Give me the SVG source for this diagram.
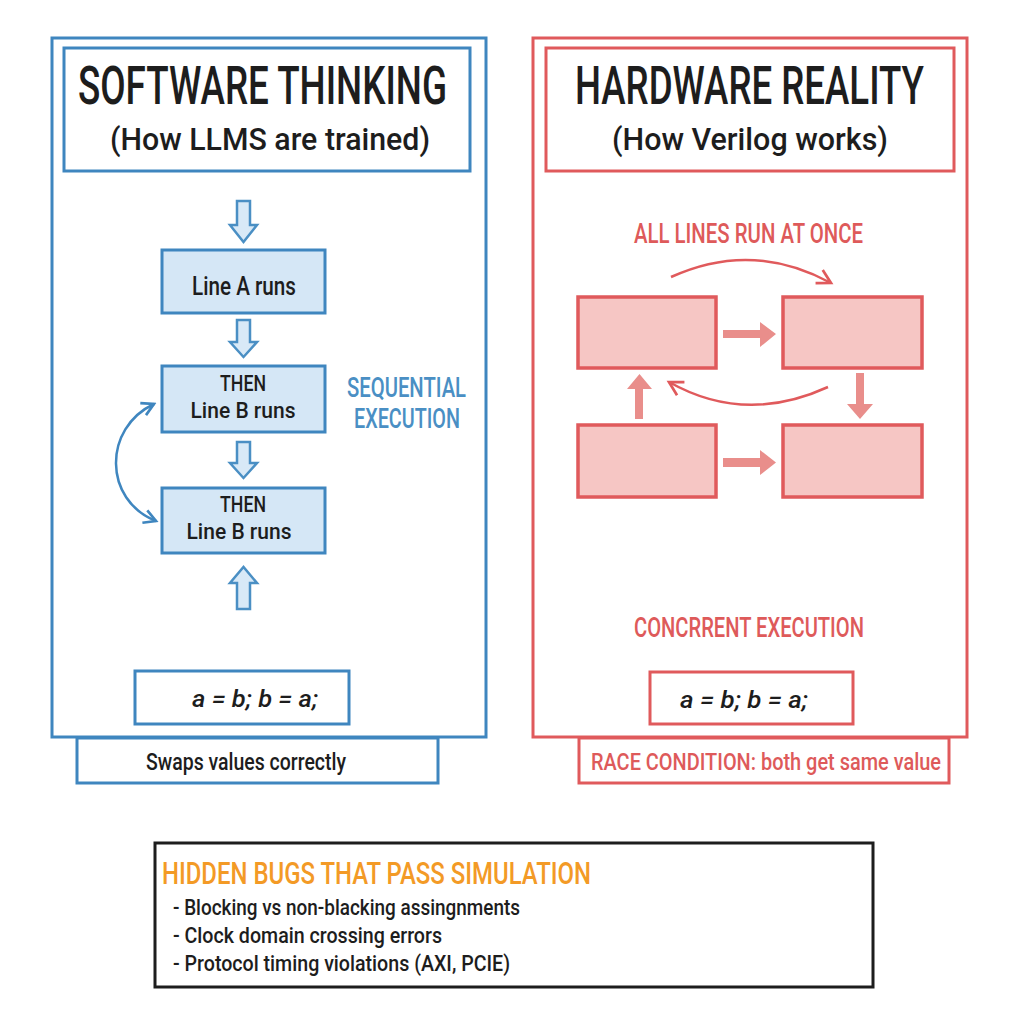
<svg xmlns="http://www.w3.org/2000/svg" width="1024" height="1024" viewBox="0 0 1024 1024">
  <style>
    text { font-family: Roboto, "Liberation Sans", "DejaVu Sans", sans-serif; }
    .blue { fill: none; stroke: #3f86bf; stroke-width: 3; }
    .red { fill: none; stroke: #e05a5c; stroke-width: 3; }
    .step { fill: #d5e7f6; stroke: #3f86bf; stroke-width: 3; }
    .block { fill: #f6c6c4; stroke: #e05a5c; stroke-width: 3.5; }
    .hollow { fill: #d8e9f7; stroke: #4a8fc4; stroke-width: 2.5; stroke-linejoin: miter; }
    .solid { fill: #e98e8b; }
    .title { font-size: 53px; font-weight: 500; fill: #1d1d1d; }
    .sub { font-size: 32px; font-weight: 500; fill: #1d1d1d; }
    .lbl { font-size: 25px; font-weight: 500; fill: #1d1d1d; text-anchor: middle; }
    .lbl2 { font-size: 22px; font-weight: 500; fill: #1d1d1d; text-anchor: middle; }
    .bluetxt { font-size: 27px; font-weight: 500; fill: #4a8fc4; }
    .redtxt { font-size: 27px; font-weight: 500; fill: #de5a5a; }
    .code { font-size: 24px; font-weight: 500; font-style: italic; fill: #1d1d1d; }
    .note { font-size: 23px; font-weight: 500; fill: #1d1d1d; }
    .bug { font-size: 22px; font-weight: 500; fill: #1d1d1d; }
  </style>
  <defs>
    <marker id="chevBlue" viewBox="0 0 12 12" refX="10" refY="6" markerWidth="16" markerHeight="16" orient="auto-start-reverse" markerUnits="userSpaceOnUse">
      <path d="M1,1 L10,6 L1,11" fill="none" stroke="#3f86bf" stroke-width="2"/>
    </marker>
    <marker id="chevRed" viewBox="0 0 12 12" refX="10" refY="6" markerWidth="18" markerHeight="18" orient="auto" markerUnits="userSpaceOnUse">
      <path d="M1,1 L10,6 L1,11" fill="none" stroke="#e05a5c" stroke-width="1.8"/>
    </marker>
  </defs>

  <rect width="1024" height="1024" fill="#ffffff"/>

  <!-- software panel -->
  <g id="software-panel">
    <rect class="blue" x="52" y="38" width="434" height="699"/>
    <rect class="blue" x="64" y="48" width="406" height="123"/>
    <text class="title" x="78" y="104" textLength="369" lengthAdjust="spacingAndGlyphs">SOFTWARE THINKING</text>
    <text class="sub" x="110" y="150" textLength="320" lengthAdjust="spacingAndGlyphs">(How LLMS are trained)</text>
  </g>

  <g id="step-line-a">
    <rect class="step" x="162" y="250" width="163" height="63"/>
    <text class="lbl" x="244" y="295" textLength="104" lengthAdjust="spacingAndGlyphs">Line A runs</text>
  </g>
  <g id="step-line-b1">
    <rect class="step" x="162" y="366" width="163" height="66"/>
    <text class="lbl2" x="243" y="391" textLength="46" lengthAdjust="spacingAndGlyphs">THEN</text>
    <text class="lbl2" x="243" y="418" textLength="105" lengthAdjust="spacingAndGlyphs">Line B runs</text>
  </g>
  <g id="step-line-b2">
    <rect class="step" x="162" y="488" width="163" height="65"/>
    <text class="lbl2" x="243" y="512" textLength="46" lengthAdjust="spacingAndGlyphs">THEN</text>
    <text class="lbl2" x="239" y="539" textLength="105" lengthAdjust="spacingAndGlyphs">Line B runs</text>
  </g>

  <g id="sequential-label">
    <text class="bluetxt" x="347" y="397" textLength="119" lengthAdjust="spacingAndGlyphs">SEQUENTIAL</text>
    <text class="bluetxt" x="354" y="428" textLength="106" lengthAdjust="spacingAndGlyphs">EXECUTION</text>
  </g>

  <g id="code-sw">
    <rect class="blue" x="135" y="671" width="214" height="53"/>
    <text class="code" x="192" y="707" textLength="126" lengthAdjust="spacingAndGlyphs">a = b; b = a;</text>
  </g>
  <g id="result-sw">
    <rect class="blue" x="77" y="738" width="361" height="45"/>
    <text class="note" x="146" y="770" textLength="200" lengthAdjust="spacingAndGlyphs">Swaps values correctly</text>
  </g>

  <!-- hardware panel -->
  <g id="hardware-panel">
    <rect class="red" x="533" y="38" width="434" height="699"/>
    <rect class="red" x="546" y="48" width="408" height="123"/>
    <text class="title" x="575" y="104" textLength="349" lengthAdjust="spacingAndGlyphs">HARDWARE REALITY</text>
    <text class="sub" x="612" y="150" textLength="276" lengthAdjust="spacingAndGlyphs">(How Verilog works)</text>
  </g>

  <g id="all-lines-label">
    <text class="redtxt" x="634" y="243" textLength="229" lengthAdjust="spacingAndGlyphs">ALL LINES RUN AT ONCE</text>
  </g>

  <g id="block-tl"><rect class="block" x="578" y="297" width="138" height="71"/></g>
  <g id="block-tr"><rect class="block" x="783" y="297" width="139" height="71"/></g>
  <g id="block-bl"><rect class="block" x="578" y="425" width="138" height="72"/></g>
  <g id="block-br"><rect class="block" x="783" y="425" width="139" height="72"/></g>

  <g id="concurrent-label">
    <text class="redtxt" x="634" y="637" textLength="230" lengthAdjust="spacingAndGlyphs">CONCRRENT EXECUTION</text>
  </g>

  <g id="code-hw">
    <rect class="red" x="650" y="672" width="203" height="52"/>
    <text class="code" x="680" y="708" textLength="128" lengthAdjust="spacingAndGlyphs">a = b; b = a;</text>
  </g>
  <g id="result-hw">
    <rect class="red" x="579" y="738" width="370" height="45"/>
    <text class="redtxt" x="591" y="770" style="font-size:24px" textLength="350" lengthAdjust="spacingAndGlyphs">RACE CONDITION: both get same value</text>
  </g>

  <!-- hidden bugs list -->
  <g id="hidden-bugs">
    <rect x="155" y="843" width="718" height="144" fill="#ffffff" stroke="#1d1d1d" stroke-width="3"/>
    <text x="162" y="884" style="font-size:32px;font-weight:500;fill:#f39a26" textLength="429" lengthAdjust="spacingAndGlyphs">HIDDEN BUGS THAT PASS SIMULATION</text>
    <text class="bug" x="173" y="915" textLength="347" lengthAdjust="spacingAndGlyphs">- Blocking vs non-blacking assingnments</text>
    <text class="bug" x="173" y="943" textLength="269" lengthAdjust="spacingAndGlyphs">- Clock domain crossing errors</text>
    <text class="bug" x="173" y="971" textLength="337" lengthAdjust="spacingAndGlyphs">- Protocol timing violations (AXI, PCIE)</text>
  </g>

  <!-- connectors -->
  <g id="connectors">
    <polygon class="hollow" points="237,201 250,201 250,225 257,225 243.5,242 230,225 237,225"/>
    <polygon class="hollow" points="237,320 250,320 250,342 257,342 243.5,357 230,342 237,342"/>
    <polygon class="hollow" points="237,442 250,442 250,463 257,463 243.5,478 230,463 237,463"/>
    <polygon class="hollow" points="237,609 250,609 250,583 257,583 243.5,567 230,583 237,583"/>
    <path d="M154,404 C103,428 103,500 156,521" fill="none" stroke="#3f86bf" stroke-width="2.5" marker-start="url(#chevBlue)" marker-end="url(#chevBlue)"/>

    <polygon class="solid" points="723,330 760,330 760,322 776,334 760,347 760,338 723,338"/>
    <polygon class="solid" points="723,458 760,458 760,450 776,462.5 760,475 760,467 723,467"/>
    <polygon class="solid" points="635,419 635,389 627,389 639.5,374 652,389 643,389 643,419"/>
    <polygon class="solid" points="856,373 864,373 864,404 873,404 860,419 847,404 856,404"/>

    <path d="M671,277 Q752,240 831,283" fill="none" stroke="#e05a5c" stroke-width="2.5" marker-end="url(#chevRed)"/>
    <path d="M828,387 Q745,425 669,382" fill="none" stroke="#e05a5c" stroke-width="2.5" marker-end="url(#chevRed)"/>
  </g>
</svg>
